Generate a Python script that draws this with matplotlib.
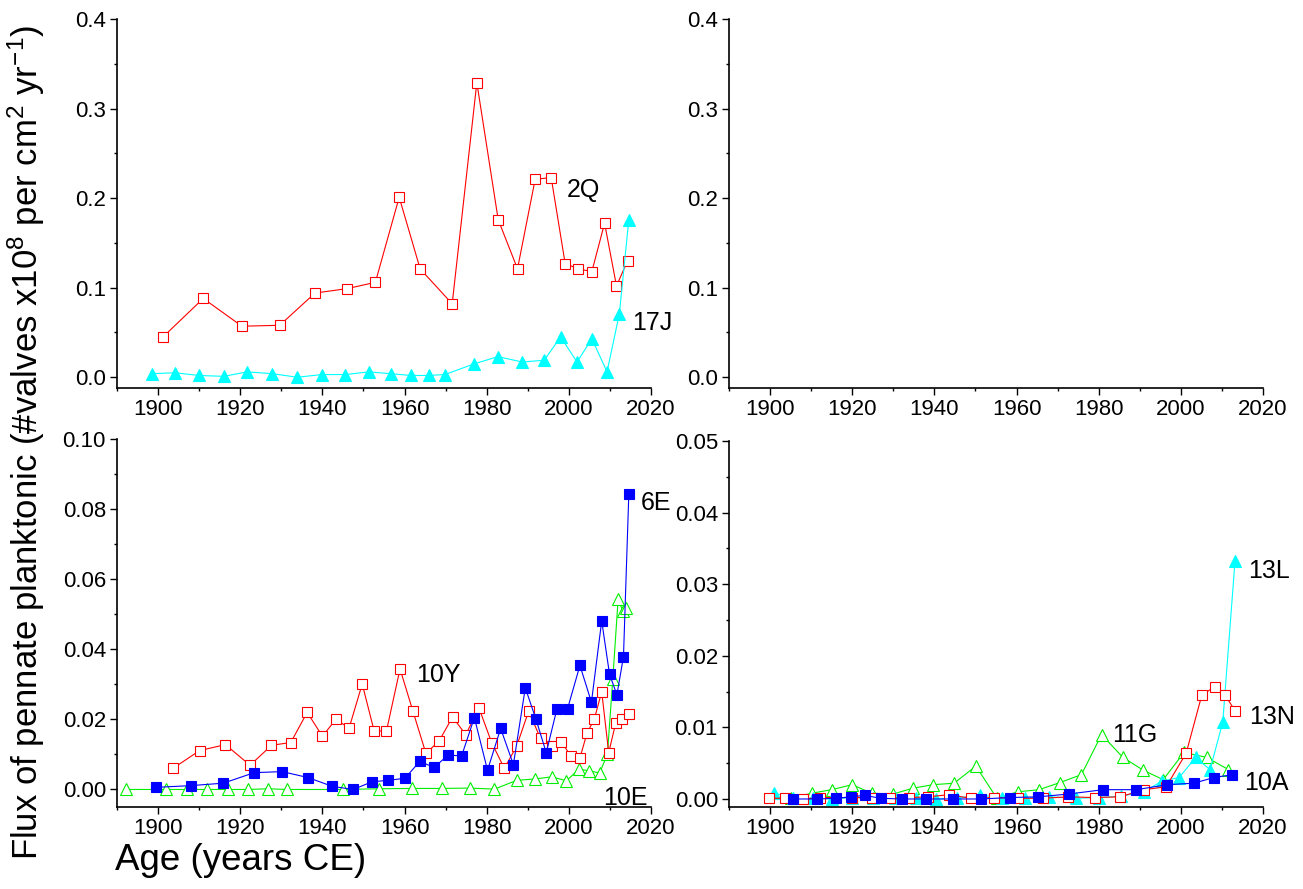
import matplotlib
matplotlib.use('Agg')
import matplotlib.pyplot as plt
import numpy as np

plt.rcParams['font.family'] = ['Liberation Sans', 'DejaVu Sans']
plt.rcParams['mathtext.default'] = 'regular'

# ---------------- data ----------------
# top-left panel
q2_year = [1901.2, 1911.0, 1920.4, 1929.6, 1938.2, 1946.1, 1952.9, 1958.7, 1963.8, 1971.6,
           1977.6, 1982.8, 1987.5, 1991.8, 1995.7, 1999.1, 2002.3, 2005.6, 2008.7, 2011.6, 2014.3]
q2_flux = [0.045, 0.088, 0.057, 0.058, 0.094, 0.099, 0.106, 0.201, 0.121, 0.082,
           0.329, 0.176, 0.121, 0.221, 0.223, 0.127, 0.121, 0.118, 0.172, 0.102, 0.130]
j17_year = [1898.4, 1904.2, 1909.9, 1916.0, 1921.7, 1927.8, 1933.9, 1939.8, 1945.6, 1951.3,
            1956.6, 1961.5, 1965.9, 1969.8, 1977.0, 1982.7, 1988.7, 1994.0, 1998.0, 2002.0,
            2005.6, 2009.3, 2012.3, 2014.6]
j17_flux = [0.004, 0.005, 0.002, 0.001, 0.006, 0.004, 0.000, 0.003, 0.003, 0.006,
            0.004, 0.002, 0.002, 0.003, 0.015, 0.023, 0.017, 0.019, 0.045, 0.017,
            0.043, 0.006, 0.071, 0.176]

# bottom-left panel
y10_year = [1903.6, 1910.1, 1916.4, 1922.4, 1927.6, 1932.3, 1936.3, 1940.0, 1943.3, 1946.5,
            1949.7, 1952.6, 1955.6, 1958.9, 1962.0, 1965.2, 1968.4, 1971.7, 1974.9, 1978.1,
            1981.2, 1984.3, 1987.3, 1990.2, 1993.1, 1995.8, 1998.2, 2000.5, 2002.7, 2004.4,
            2006.2, 2008.0, 2009.7, 2011.4, 2013.0, 2014.6]
y10_flux = [0.0060, 0.0111, 0.0128, 0.0069, 0.0126, 0.0134, 0.0220, 0.0152, 0.0200, 0.0175,
            0.0301, 0.0167, 0.0167, 0.0344, 0.0225, 0.0103, 0.0138, 0.0207, 0.0156, 0.0233,
            0.0134, 0.0060, 0.0124, 0.0223, 0.0146, 0.0124, 0.0136, 0.0095, 0.0090, 0.0160,
            0.0201, 0.0279, 0.0105, 0.0189, 0.0202, 0.0215]
e6_year = [1899.5, 1908.0, 1915.9, 1923.4, 1930.2, 1936.5, 1942.4, 1947.5, 1952.1, 1956.0,
           1960.1, 1963.7, 1967.2, 1970.6, 1973.9, 1977.0, 1980.2, 1983.4, 1986.5, 1989.4,
           1992.0, 1994.5, 1997.1, 1999.7, 2002.7, 2005.5, 2008.0, 2009.9, 2011.7, 2013.3, 2014.6]
e6_flux = [0.0006, 0.0011, 0.0018, 0.0048, 0.0051, 0.0034, 0.0009, 0.0000, 0.0022, 0.0026,
           0.0032, 0.0080, 0.0063, 0.0098, 0.0096, 0.0205, 0.0055, 0.0174, 0.0071, 0.0290,
           0.0200, 0.0105, 0.0230, 0.0231, 0.0354, 0.0249, 0.0481, 0.0329, 0.0270, 0.0379, 0.0843]
e10_year = [1892.2, 1902.0, 1907.0, 1912.0, 1917.0, 1921.9, 1926.7, 1931.4, 1945.1, 1953.8,
            1961.8, 1969.2, 1975.9, 1981.9, 1987.3, 1991.7, 1995.8, 1999.4, 2002.5, 2005.0,
            2007.5, 2009.4, 2010.7, 2012.0, 2013.1, 2014.0]
e10_flux = [0.0000, 0.0000, 0.0000, 0.0000, 0.0000, 0.0000, 0.0002, 0.0000, 0.0000, 0.0002,
            0.0003, 0.0003, 0.0004, 0.0001, 0.0026, 0.0030, 0.0036, 0.0025, 0.0058, 0.0053,
            0.0047, 0.0101, 0.0316, 0.0543, 0.0510, 0.0519]

# bottom-right panel
n13_year = [1899.8, 1903.6, 1907.9, 1912.2, 1920.0, 1924.7, 1929.2, 1933.7, 1938.5, 1943.5,
            1948.8, 1954.6, 1960.4, 1966.4, 1972.6, 1979.0, 1985.2, 1991.0, 1996.4, 2001.3,
            2005.1, 2008.3, 2010.8, 2013.2]
n13_flux = [0.0001, 0.0001, 0.0000, 0.0002, 0.0002, 0.0002, 0.0001, 0.0002, 0.0003, 0.0006,
            0.0001, 0.0002, 0.0001, 0.0001, 0.0003, 0.0002, 0.0003, 0.0013, 0.0017, 0.0064,
            0.0145, 0.0157, 0.0145, 0.0123]
l13_year = [1901.0, 1905.5, 1910.5, 1915.0, 1920.0, 1925.0, 1930.5, 1935.5, 1940.5, 1945.5,
            1951.0, 1956.5, 1962.0, 1968.0, 1974.5, 1980.0, 1985.5, 1991.0, 1995.4, 1999.6,
            2003.6, 2007.1, 2010.2, 2013.2]
l13_flux = [0.0008, 0.0002, 0.0001, 0.0000, 0.0002, 0.0001, 0.0001, 0.0001, 0.0000, 0.0001,
            0.0006, 0.0001, 0.0001, 0.0003, 0.0001, 0.0002, 0.0004, 0.0010, 0.0025, 0.0030,
            0.0058, 0.0041, 0.0107, 0.0333]
g11_year = [1905.0, 1910.1, 1915.0, 1920.0, 1924.7, 1930.0, 1934.7, 1939.7, 1944.8, 1950.1,
            1955.2, 1960.3, 1965.5, 1970.6, 1975.8, 1980.7, 1985.9, 1990.9, 1995.7, 2000.8,
            2006.3, 2011.6]
g11_flux = [0.0001, 0.0008, 0.0013, 0.0020, 0.0008, 0.0007, 0.0015, 0.0020, 0.0022, 0.0046,
            0.0001, 0.0010, 0.0013, 0.0023, 0.0034, 0.0090, 0.0058, 0.0040, 0.0027, 0.0065,
            0.0058, 0.0041]
a10_year = [1905.7, 1911.4, 1916.1, 1919.6, 1923.0, 1926.9, 1932.0, 1938.0, 1944.6, 1951.3,
            1958.4, 1965.3, 1972.8, 1981.1, 1989.2, 1996.7, 2003.1, 2008.1, 2012.5]
a10_flux = [0.0000, 0.0000, 0.0001, 0.0003, 0.0005, 0.0001, 0.0000, 0.0000, 0.0000, 0.0000,
            0.0002, 0.0003, 0.0007, 0.0013, 0.0013, 0.0020, 0.0022, 0.0030, 0.0034]

x_major = [1900, 1920, 1940, 1960, 1980, 2000, 2020]
x_minor = [1890, 1910, 1930, 1950, 1970, 1990, 2010]
top_yticks = [0.0, 0.1, 0.2, 0.3, 0.4]
top_yminor = [0.05, 0.15, 0.25, 0.35]
bl_yticks = [0.00, 0.02, 0.04, 0.06, 0.08, 0.10]
bl_yminor = [0.01, 0.03, 0.05, 0.07, 0.09]
br_yticks = [0.00, 0.01, 0.02, 0.03, 0.04, 0.05]
br_yminor = [0.005, 0.015, 0.025, 0.035, 0.045]

RED, BLUE, GREEN, CYAN = '#FF0000', '#0000FF', '#00EE00', '#00FFFF'

W, H = 1303, 889
fig = plt.figure(figsize=(W / 100, H / 100), dpi=100)


def make_ax(x0, x1, ytop, ybot):
    return fig.add_axes([x0 / W, 1 - ybot / H, (x1 - x0) / W, (ybot - ytop) / H])


def style(ax, ylim, yt, ym, fmt):
    ax.set_xlim(1890, 2020)
    ax.set_ylim(*ylim)
    for s in ('top', 'right'):
        ax.spines[s].set_visible(False)
    for s in ('left', 'bottom'):
        ax.spines[s].set_linewidth(1.2)
    ax.set_xticks(x_major)
    ax.set_xticks(x_minor, minor=True)
    ax.set_yticks(yt)
    ax.set_yticks(ym, minor=True)
    ax.set_yticklabels([fmt % v for v in yt])
    ax.tick_params(which='major', direction='out', length=5, width=1.0,
                   labelsize=16, pad=3)
    ax.tick_params(which='minor', direction='out', length=2.5, width=1.0)


def series(ax, x, y, color, marker, filled, ms):
    ax.plot(x, y, color=color, lw=0.8, marker=marker, ms=ms,
            mfc=color if filled else 'white', mec=color, mew=0.8, clip_on=False)


ax1 = make_ax(117, 651, 19, 388)
ax2 = make_ax(729, 1263, 19, 388)
ax3 = make_ax(117, 651, 439, 807)
ax4 = make_ax(729, 1263, 441, 807)

style(ax1, (-0.012, 0.4), top_yticks, top_yminor, '%.1f')
style(ax2, (-0.012, 0.4), top_yticks, top_yminor, '%.1f')
style(ax3, (-0.005, 0.10), bl_yticks, bl_yminor, '%.2f')
style(ax4, (-0.00112, 0.05), br_yticks, br_yminor, '%.2f')

# top-left
series(ax1, q2_year, q2_flux, RED, 's', False, 6.8)
series(ax1, j17_year, j17_flux, CYAN, '^', True, 9)
ax1.text(1999.5, 0.209, '2Q', fontsize=18, va='center', ha='left')
ax1.text(2015.3, 0.061, '17J', fontsize=18, va='center', ha='left')

# bottom-left
series(ax3, e10_year, e10_flux, GREEN, '^', False, 9)
series(ax3, y10_year, y10_flux, RED, 's', False, 6.8)
series(ax3, e6_year, e6_flux, BLUE, 's', True, 6.8)
ax3.text(1962.7, 0.0327, '10Y', fontsize=18, va='center', ha='left')
ax3.text(2017.4, 0.0817, '6E', fontsize=18, va='center', ha='left')
ax3.text(2008.3, -0.0023, '10E', fontsize=18, va='center', ha='left')

# bottom-right
series(ax4, g11_year, g11_flux, GREEN, '^', False, 9)
series(ax4, l13_year, l13_flux, CYAN, '^', True, 9)
series(ax4, n13_year, n13_flux, RED, 's', False, 6.8)
series(ax4, a10_year, a10_flux, BLUE, 's', True, 6.8)
ax4.text(2016.4, 0.0318, '13L', fontsize=18, va='center', ha='left')
ax4.text(2016.7, 0.0115, '13N', fontsize=18, va='center', ha='left')
ax4.text(1983.3, 0.0089, '11G', fontsize=18, va='center', ha='left')
ax4.text(2015.5, 0.0023, '10A', fontsize=18, va='center', ha='left')

fig.text(26 / W, 1 - 442 / H,
         r'Flux of pennate planktonic (#valves x10$^{8}$ per cm$^{2}$ yr$^{-1}$)',
         rotation=90, ha='center', va='center', fontsize=25)
fig.text(115 / W, 1 - 860 / H, 'Age (years CE)', ha='left', va='center', fontsize=26.5)

fig.savefig('out.png', dpi=100)
